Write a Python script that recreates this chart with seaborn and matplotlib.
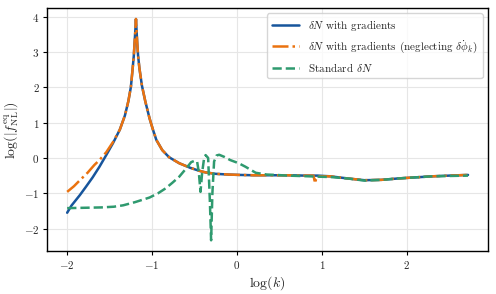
import numpy as np
import pandas as pd
import seaborn as sns
import matplotlib.pyplot as plt

# delta N with gradients (blue, solid)
logk_grad = [-2.0, -1.95, -1.9, -1.85, -1.78, -1.7, -1.62, -1.54, -1.46, -1.38, -1.32, -1.28, -1.25,
             -1.23, -1.215, -1.205, -1.195, -1.19, -1.185, -1.175, -1.165, -1.15, -1.12, -1.08, -1.03,
             -0.99, -0.95, -0.88, -0.8, -0.68, -0.55, -0.45, -0.37, -0.25, -0.1, 0.02, 0.2, 0.4, 0.6,
             0.8, 0.95, 1.1, 1.3, 1.5, 1.7, 1.9, 2.1, 2.3, 2.5, 2.72]
f_grad = [-1.55, -1.35, -1.2, -1.05, -0.82, -0.55, -0.25, 0.08, 0.42, 0.8, 1.2, 1.6, 2.0,
          2.5, 2.9, 3.3, 3.7, 3.93, 3.7, 3.25, 2.9, 2.55, 2.05, 1.6, 1.12,
          0.8, 0.51, 0.22, 0.02, -0.15, -0.28, -0.36, -0.41, -0.45, -0.47, -0.48, -0.49, -0.49, -0.49,
          -0.5, -0.5, -0.52, -0.58, -0.63, -0.62, -0.58, -0.55, -0.52, -0.5, -0.48]

# delta N with gradients, neglecting delta phi dot (orange, dash-dot)
logk_neg = [-2.0, -1.92, -1.85, -1.76, -1.68, -1.62, -1.54, -1.46, -1.38, -1.32, -1.28, -1.25,
            -1.23, -1.215, -1.205, -1.195, -1.19, -1.185, -1.175, -1.165, -1.15, -1.12, -1.08, -1.03,
            -0.99, -0.95, -0.88, -0.8, -0.68, -0.55, -0.45, -0.37, -0.25, -0.1, 0.02, 0.2, 0.4, 0.6,
            0.8, 0.9, 0.92, 0.93, 0.95, 1.1, 1.3, 1.5, 1.7, 1.9, 2.1, 2.3, 2.5, 2.72]
f_neg = [-0.96, -0.8, -0.63, -0.42, -0.2, -0.06, 0.16, 0.45, 0.8, 1.2, 1.6, 2.0,
         2.5, 2.9, 3.3, 3.7, 3.93, 3.7, 3.25, 2.9, 2.55, 2.05, 1.6, 1.12,
         0.8, 0.51, 0.22, 0.02, -0.15, -0.28, -0.36, -0.41, -0.45, -0.47, -0.48, -0.49, -0.49, -0.49,
         -0.5, -0.5, -0.72, -0.6, -0.52, -0.52, -0.58, -0.63, -0.62, -0.58, -0.55, -0.52, -0.5, -0.48]

# standard delta N (green, dashed)
logk_std = [-2.0, -1.8, -1.6, -1.45, -1.34, -1.2, -1.03, -0.93, -0.84, -0.76, -0.68, -0.6, -0.54,
            -0.5, -0.47, -0.45, -0.43, -0.41, -0.39, -0.37, -0.34, -0.32, -0.305, -0.29, -0.27,
            -0.24, -0.21, -0.15, -0.08, 0.02, 0.1, 0.22, 0.35, 0.45, 0.6, 0.73, 0.85, 0.96, 1.1, 1.3,
            1.5, 1.7, 1.9, 2.1, 2.3, 2.5, 2.72]
f_std = [-1.42, -1.41, -1.4, -1.38, -1.34, -1.25, -1.12, -1.0, -0.86, -0.7, -0.53, -0.3, -0.12,
         -0.08, -0.1, -0.4, -0.96, -0.4, -0.05, 0.08, 0.0, -1.2, -2.33, -1.0, -0.1,
         0.07, 0.09, 0.03, -0.06, -0.15, -0.25, -0.42, -0.47, -0.48, -0.5, -0.51, -0.52, -0.53, -0.54, -0.58,
         -0.64, -0.62, -0.58, -0.55, -0.52, -0.51, -0.5]

sns.set_style('whitegrid', {'axes.edgecolor': 'black', 'grid.color': '#e6e6e6',
                            'xtick.bottom': True, 'ytick.left': True})
plt.rcParams['font.family'] = 'serif'
plt.rcParams['font.serif'] = ['cmr10', 'DejaVu Serif']
plt.rcParams['mathtext.fontset'] = 'cm'
plt.rcParams['axes.formatter.use_mathtext'] = True
plt.rcParams['font.size'] = 9

fig, ax = plt.subplots(figsize=(4.96, 2.94), dpi=100)

d1 = pd.DataFrame({'x': logk_grad, 'y': f_grad})
d2 = pd.DataFrame({'x': logk_neg, 'y': f_neg})
d3 = pd.DataFrame({'x': logk_std, 'y': f_std})

sns.lineplot(data=d1, x='x', y='y', ax=ax, color='#17559c', lw=1.8, sort=False,
             label=r'$\delta N$ with gradients')
sns.lineplot(data=d2, x='x', y='y', ax=ax, color='#ea720f', lw=1.8, sort=False, linestyle='-.',
             label=r'$\delta N$ with gradients (neglecting $\dot{\delta\phi}_k$)')
sns.lineplot(data=d3, x='x', y='y', ax=ax, color='#2f9a6f', lw=1.8, sort=False, linestyle='--',
             label=r'Standard $\delta N$')

for sp in ax.spines.values():
    sp.set_linewidth(1.0)
ax.tick_params(axis='both', length=3, width=0.8, labelsize=8, color='black', pad=2.5)
ax.set_xticks([-2, -1, 0, 1, 2])
ax.set_yticks([-2, -1, 0, 1, 2, 3, 4])
ax.set_xlabel(r'$\log(k)$', fontsize=10, labelpad=2)
ax.set_ylabel(r'$\log(|f_{\rm NL}^{\rm eq}|)$', fontsize=10, labelpad=2)
ax.legend(loc='upper right', fontsize=8, frameon=True, handlelength=2.5)

fig.subplots_adjust(left=0.095, right=0.984, top=0.973, bottom=0.145)
fig.savefig('out.png', dpi=100)
